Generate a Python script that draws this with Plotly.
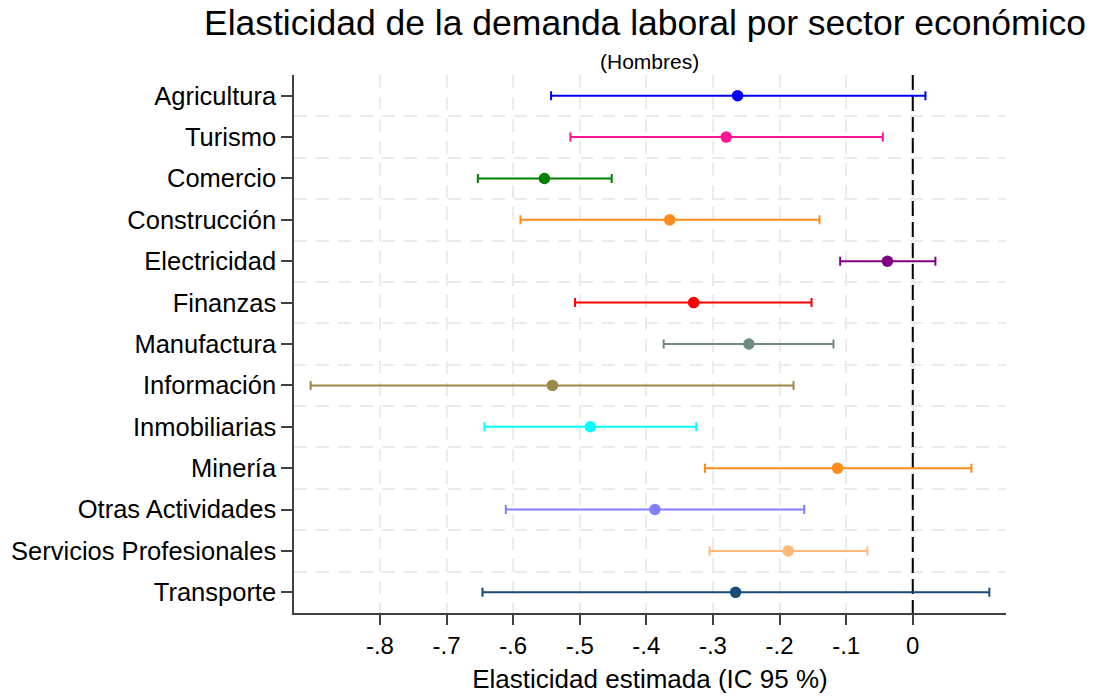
import plotly.graph_objects as go

sectors = ["Agricultura", "Turismo", "Comercio", "Construcción", "Electricidad", "Finanzas",
           "Manufactura", "Información", "Inmobiliarias", "Minería", "Otras Actividades",
           "Servicios Profesionales", "Transporte"]
estimate = [-0.263, -0.280, -0.553, -0.365, -0.038, -0.329, -0.246, -0.541, -0.484, -0.113,
            -0.387, -0.187, -0.266]
ci_low = [-0.543, -0.514, -0.653, -0.589, -0.109, -0.507, -0.374, -0.904, -0.643, -0.312,
          -0.611, -0.305, -0.646]
ci_high = [0.019, -0.045, -0.452, -0.140, 0.034, -0.152, -0.119, -0.179, -0.325, 0.088,
           -0.163, -0.068, 0.115]
colors = ["#0000FF", "#FF1493", "#008000", "#FF8C1A", "#800080", "#FF0000", "#6E8B7D",
          "#9C8848", "#00FFFF", "#FF8C1A", "#8080FF", "#FFB878", "#1A4A78"]
xtick_vals = [-0.8, -0.7, -0.6, -0.5, -0.4, -0.3, -0.2, -0.1, 0]
xtick_text = ["-.8", "-.7", "-.6", "-.5", "-.4", "-.3", "-.2", "-.1", "0"]
ref_value = 0

FONT = "Liberation Sans, Arial, sans-serif"
GRID = "#ebebeb"
n = len(sectors)
W, H = 1112, 696

fig = go.Figure()
# reference line at zero (drawn first so the intervals sit on top of it)
fig.add_trace(go.Scatter(
    x=[ref_value, ref_value], y=[-0.5, n - 0.5], mode="lines", showlegend=False,
    hoverinfo="skip", line=dict(color="black", width=2, dash="15px,6px"),
))
for i, name in enumerate(sectors):
    fig.add_trace(go.Scatter(
        x=[estimate[i]], y=[i], mode="markers", name=name, showlegend=False,
        marker=dict(color=colors[i], size=11.5),
        error_x=dict(type="data", symmetric=False,
                     array=[ci_high[i] - estimate[i]],
                     arrayminus=[estimate[i] - ci_low[i]],
                     color=colors[i], thickness=2, width=4.5),
    ))

fig.update_layout(
    width=W, height=H,
    margin=dict(l=294, r=106, t=75, b=83),
    paper_bgcolor="white", plot_bgcolor="white",
    font=dict(family=FONT, color="black"),
    title=dict(text="Elasticidad de la demanda laboral por sector económico",
               font=dict(size=35.5, family=FONT, color="black"),
               x=645 / W, xref="container", xanchor="center",
               y=1 - 23 / H, yref="container", yanchor="middle"),
    annotations=[dict(text="(Hombres)", xref="paper", yref="paper", x=(649 - 294) / 712,
                      y=1 + 13 / 538,
                      xanchor="center", yanchor="middle", showarrow=False,
                      font=dict(size=21, family=FONT, color="black"))],
)

fig.update_xaxes(
    range=[-0.929, 0.14], tickvals=xtick_vals, ticktext=xtick_text, automargin=False,
    showgrid=True, gridcolor=GRID, gridwidth=2, griddash="13px,9px",
    zeroline=False, showline=True, linecolor="#404040", linewidth=1.5,
    ticks="outside", ticklen=10, tickwidth=1.5, tickcolor="#404040",
    tickfont=dict(size=24, family=FONT, color="black"),
    title=dict(text="Elasticidad estimada (IC 95 %)", standoff=12,
               font=dict(size=26, family=FONT, color="black")),
)
fig.update_yaxes(
    range=[n - 0.5, -0.5], tickvals=list(range(n)), ticktext=sectors, automargin=False,
    showgrid=False, zeroline=False, showline=True, linecolor="#404040", linewidth=1.5,
    ticks="outside", ticklen=11, tickwidth=1.5, tickcolor="#404040",
    tickfont=dict(size=25.5, family=FONT, color="black"),
    minor=dict(tickvals=[i + 0.5 for i in range(n - 1)], showgrid=True,
               gridcolor=GRID, gridwidth=2, griddash="13px,9px", ticks=""),
)

fig.write_html(
    "out.html",
    config={"displayModeBar": False},
    post_script="document.body.style.margin='0';document.body.style.overflow='hidden';",
)
